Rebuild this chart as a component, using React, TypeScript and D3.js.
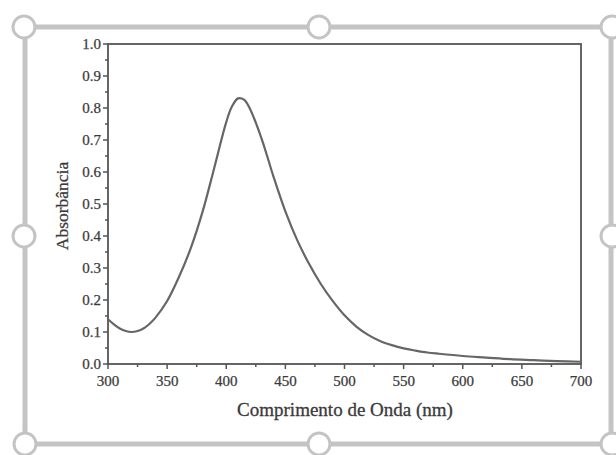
import React from "react";
import * as d3 from "d3";

const wavelengths = [300, 305, 310, 315, 320, 325, 330, 335, 340, 350, 360, 370, 380, 390, 400, 405, 410, 415, 420, 430, 440, 450, 460, 470, 480, 490, 500, 510, 520, 530, 540, 550, 560, 570, 580, 600, 620, 640, 660, 680, 700];
const absorbance = [0.14, 0.124, 0.111, 0.103, 0.1, 0.103, 0.111, 0.125, 0.144, 0.197, 0.272, 0.362, 0.476, 0.615, 0.756, 0.806, 0.83, 0.826, 0.798, 0.703, 0.585, 0.477, 0.387, 0.313, 0.25, 0.197, 0.152, 0.117, 0.091, 0.072, 0.059, 0.049, 0.042, 0.036, 0.032, 0.025, 0.02, 0.015, 0.012, 0.009, 0.007];
const xTicks = [300, 350, 400, 450, 500, 550, 600, 650, 700];
const yTicks = [0, 0.1, 0.2, 0.3, 0.4, 0.5, 0.6, 0.7, 0.8, 0.9, 1.0];
const xTitle = "Comprimento de Onda (nm)";
const yTitle = "Absorbância";

const W = 616, H = 455;
const L = 108, R = 581, T = 44, B = 364;

export default function App() {
  const x = d3.scaleLinear().domain([300, 700]).range([L, R]);
  const y = d3.scaleLinear().domain([0, 1]).range([B, T]);
  const pts = wavelengths.map((w, i) => [w, absorbance[i]] as [number, number]);
  const line = d3.line<[number, number]>().x(d => x(d[0])).y(d => y(d[1])).curve(d3.curveCatmullRom.alpha(0.5));
  const xMinor = d3.range(325, 700, 50);
  const yMinor = d3.range(0.05, 1, 0.1);
  const handles: [number, number][] = [[24, 27], [319, 27], [612, 27], [24, 236], [612, 236], [25, 444], [319, 444], [612, 444]];
  const font = "'Liberation Serif', 'Times New Roman', serif";
  const axisColor = "#555";
  const txt = "#3a3a3a";
  return (
    <svg width={W} height={H} style={{ position: "absolute", left: 0, top: 0, background: "#fff" }}>
      <rect x={25} y={27} width={586} height={417} fill="none" stroke="#c4c4c4" strokeWidth={5} />
      {handles.map(([cx, cy], i) => (
        <circle key={i} cx={cx} cy={cy} r={11} fill="#fff" stroke="#c4c4c4" strokeWidth={3} />
      ))}
      <rect x={L} y={T} width={R - L} height={B - T} fill="none" stroke={axisColor} strokeWidth={1.8} />
      {xTicks.map(t => (
        <g key={"xt" + t}>
          <line x1={x(t)} x2={x(t)} y1={B} y2={B + 5} stroke={axisColor} strokeWidth={1.5} />
          <text x={x(t)} y={386} textAnchor="middle" fontFamily={font} fontSize={15} fill={txt} stroke={txt} strokeWidth={0.25}>{t}</text>
        </g>
      ))}
      {xMinor.map(t => (
        <line key={"xm" + t} x1={x(t)} x2={x(t)} y1={B} y2={B + 3} stroke={axisColor} strokeWidth={1.5} />
      ))}
      {yTicks.map(t => (
        <g key={"yt" + t}>
          <line x1={L - 5} x2={L} y1={y(t)} y2={y(t)} stroke={axisColor} strokeWidth={1.5} />
          <text x={101} y={y(t) + 4.5} textAnchor="end" fontFamily={font} fontSize={15} fill={txt} stroke={txt} strokeWidth={0.25}>{t.toFixed(1)}</text>
        </g>
      ))}
      {yMinor.map(t => (
        <line key={"ym" + t} x1={L - 3} x2={L} y1={y(t)} y2={y(t)} stroke={axisColor} strokeWidth={1.5} />
      ))}
      <path d={line(pts) || ""} fill="none" stroke="#666" strokeWidth={2.2} />
      <text x={345} y={416} textAnchor="middle" fontFamily={font} fontSize={19} fill={txt} stroke={txt} strokeWidth={0.3}>{xTitle}</text>
      <text transform={`translate(68,${(T + B) / 2 + 2}) rotate(-90)`} textAnchor="middle" fontFamily={font} fontSize={17.5} fill={txt} stroke={txt} strokeWidth={0.25}>{yTitle}</text>
    </svg>
  );
}
